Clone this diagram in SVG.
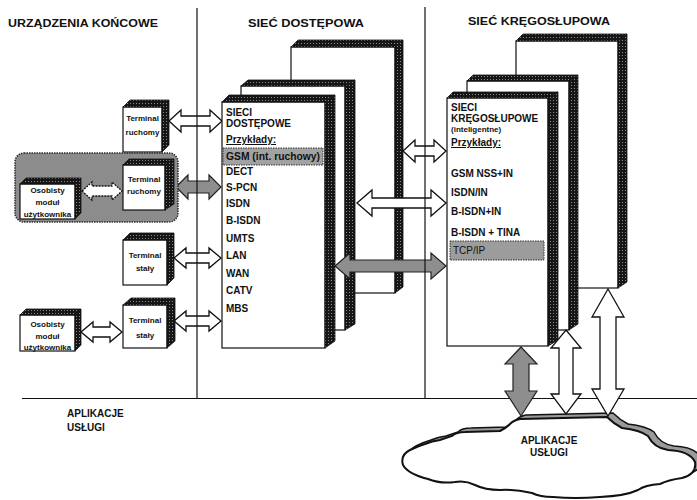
<svg xmlns="http://www.w3.org/2000/svg" width="697" height="500" viewBox="0 0 697 500">
<defs>
<pattern id="stip" width="3" height="3" patternUnits="userSpaceOnUse"><rect width="3" height="3" fill="#161616"/><rect x="1" y="1" width="1" height="1" fill="#8a8a8a"/></pattern>
<path id="cloudshape" d="M520,419 L607,417 Q614,424 622,428 Q640,430 648,436 Q654,448 668,450 Q690,451 695,462 Q697,474 682,478 Q668,480 660,484 Q645,485 638,490 Q625,496 600,497 Q575,499 553,497 Q540,497 532,493 Q515,489 500,490 Q485,490 475,485 Q465,480 455,482 Q440,484 428,479 Q408,474 403,465 Q400,455 410,450 Q418,446 425,444 Q432,441 440,440 L452,436 Q456,432 465,432 L500,431 Q506,428 510,424 Q514,420 520,419 Z"/>
<style>
text{font-family:"Liberation Sans",Arial,sans-serif;font-weight:bold;fill:#111}
.h{font-size:11.6px}
.t{font-size:10px}
.s{font-size:8px}
.c{text-anchor:middle}
.face{fill:#fff;stroke:#111;stroke-width:1.2}
.dark{fill:url(#stip);stroke:#111;stroke-width:0.8}
.wa{fill:#fff;stroke:#111;stroke-width:1.3}
.ga{fill:#8e8e8e;stroke:#222;stroke-width:1.2}
.div{stroke:#111;stroke-width:1.2;fill:none}
</style>
</defs>
<rect width="697" height="500" fill="#fff"/>

<!-- headers -->
<text class="h" x="8" y="27" textLength="150" lengthAdjust="spacingAndGlyphs">URZĄDZENIA KOŃCOWE</text>
<text class="h" x="248" y="27" textLength="116" lengthAdjust="spacingAndGlyphs">SIEĆ DOSTĘPOWA</text>
<text class="h" x="468" y="25" textLength="142" lengthAdjust="spacingAndGlyphs">SIEĆ KRĘGOSŁUPOWA</text>

<!-- access network stack -->
<g id="access-back">
<rect class="face" x="291" y="47" width="104" height="246"/>
<polygon class="dark" points="291,47 298,40 403,40 395,47"/>
<polygon class="dark" points="395,47 403,40 403,287 395,293"/>
</g>
<g id="access-mid">
<rect class="face" x="241" y="86" width="104" height="244"/>
<polygon class="dark" points="241,86 248,80 355,80 345,86"/>
<polygon class="dark" points="345,86 355,80 355,324 345,330"/>
</g>

<!-- backbone stack -->
<g id="backbone-back">
<rect class="face" x="516" y="41" width="102" height="247"/>
<polygon class="dark" points="516,41 523,34 627,34 618,41"/>
<polygon class="dark" points="618,41 627,34 627,282 618,288"/>
</g>
<g id="backbone-mid">
<rect class="face" x="467" y="81" width="102" height="249"/>
<polygon class="dark" points="467,81 473,75 578,75 569,81"/>
<polygon class="dark" points="569,81 578,75 578,324 569,330"/>
</g>

<!-- connectors -->
<g id="connectors">
<path class="wa" d="M403,151 L415,140 L415,146 L434,146 L434,140 L446,151 L434,162 L434,156 L415,156 L415,162 Z"/>
<path class="wa" d="M357,203 L372,190 L372,198 L431,198 L431,190 L446,203 L431,216 L431,208 L372,208 L372,216 Z"/>
<path class="ga" d="M335,266 L350,253 L350,260 L431,260 L431,253 L446,266 L431,279 L431,272 L350,272 L350,279 Z"/>
<path class="wa" d="M169,121 L181,110 L181,116 L210,116 L210,110 L222,121 L210,132 L210,126 L181,126 L181,132 Z"/>
<path class="ga" d="M176,187 L188,175 L188,181 L209,181 L209,175 L221,187 L209,199 L209,193 L188,193 L188,199 Z"/>
<path class="wa" d="M174,258 L186,248 L186,253 L209,253 L209,248 L221,258 L209,268 L209,263 L186,263 L186,268 Z"/>
<path class="wa" d="M81,332 L93,322 L93,327 L110,327 L110,322 L122,332 L110,342 L110,337 L93,337 L93,342 Z"/>
<path class="wa" d="M174,321 L186,311 L186,316 L209,316 L209,311 L221,321 L209,331 L209,326 L186,326 L186,331 Z"/>
</g>

<!-- access front box -->
<g id="access-front">
<rect class="face" x="222" y="102" width="103" height="246"/>
<polygon class="dark" points="222,102 229,95 335,95 325,102"/>
<polygon class="dark" points="325,102 335,95 335,341 325,348"/>
<text class="t" x="226" y="116">SIECI</text>
<text class="t" x="226" y="127">DOSTĘPOWE</text>
<text class="t" x="226" y="143" text-decoration="underline">Przykłady:</text>
<rect x="223" y="148" width="100" height="17" fill="#a2a2a2" stroke="#333" stroke-width="1" stroke-dasharray="1.5 1"/>
<text class="t" x="226" y="160" font-size="9.5" textLength="94" lengthAdjust="spacingAndGlyphs">GSM (int. ruchowy)</text>
<text class="t" x="226" y="175">DECT</text>
<text class="t" x="226" y="191">S-PCN</text>
<text class="t" x="226" y="207">ISDN</text>
<text class="t" x="226" y="224">B-ISDN</text>
<text class="t" x="226" y="242">UMTS</text>
<text class="t" x="226" y="259">LAN</text>
<text class="t" x="226" y="277">WAN</text>
<text class="t" x="226" y="294">CATV</text>
<text class="t" x="226" y="312">MBS</text>
</g>

<!-- backbone front box -->
<g id="backbone-front">
<rect class="face" x="447" y="98" width="101" height="248"/>
<polygon class="dark" points="447,98 453,92 558,92 548,98"/>
<polygon class="dark" points="548,98 558,92 558,340 548,346"/>
<text class="t" x="451" y="111">SIECI</text>
<text class="t" x="451" y="122">KRĘGOSŁUPOWE</text>
<text class="s" x="451" y="132">(inteligentne)</text>
<text class="t" x="451" y="146" text-decoration="underline">Przykłady:</text>
<text class="t" x="451" y="177">GSM NSS+IN</text>
<text class="t" x="451" y="196">ISDN/IN</text>
<text class="t" x="451" y="215">B-ISDN+IN</text>
<text class="t" x="451" y="236">B-ISDN + TINA</text>
<rect x="450" y="241" width="94" height="19" fill="#9c9c9c" stroke="#333" stroke-width="1" stroke-dasharray="1.5 1"/>
<text class="t" x="453" y="254" style="font-weight:normal">TCP/IP</text>
</g>

<!-- terminal devices -->
<g id="terminal-ruchomy-1">
<rect class="face" x="123" y="107" width="39" height="45"/>
<polygon class="dark" points="123,107 130,100 169,100 162,107"/>
<polygon class="dark" points="162,107 169,100 169,145 162,152"/>
<text class="s c" x="142.5" y="121">Terminal</text>
<text class="s c" x="142.5" y="135">ruchomy</text>
</g>

<g id="user-group">
<rect x="15" y="153" width="163" height="69" rx="9" fill="#8c8c8c" stroke="#2a2a2a" stroke-width="1.5" stroke-dasharray="1.5 1"/>
<path class="wa" d="M82,191 L92,182 L92,186 L112,186 L112,182 L122,191 L112,200 L112,196 L92,196 L92,200 Z" stroke-dasharray="2 1"/>
</g>
<g id="osobisty-1">
<rect class="face" x="20" y="184" width="55" height="35"/>
<polygon class="dark" points="20,184 26,178 81,178 75,184"/>
<polygon class="dark" points="75,184 81,178 81,213 75,219"/>
<text class="s c" x="47.5" y="193">Osobisty</text>
<text class="s c" x="47.5" y="205">moduł</text>
<text class="s c" x="47.5" y="217">użytkownika</text>
</g>
<g id="terminal-ruchomy-2">
<rect class="face" x="123" y="165" width="42" height="45"/>
<polygon class="dark" points="123,165 129,159 174,159 165,165"/>
<polygon class="dark" points="165,165 174,159 174,204 165,210"/>
<text class="s c" x="144" y="182">Terminal</text>
<text class="s c" x="144" y="194">ruchomy</text>
</g>
<g id="terminal-staly-1">
<rect class="face" x="123" y="240" width="44" height="45"/>
<polygon class="dark" points="123,240 130,233 174,233 167,240"/>
<polygon class="dark" points="167,240 174,233 174,278 167,285"/>
<text class="s c" x="145" y="258">Terminal</text>
<text class="s c" x="145" y="271">stały</text>
</g>
<g id="osobisty-2">
<rect class="face" x="20" y="315" width="55" height="36"/>
<polygon class="dark" points="20,315 26,309 81,309 75,315"/>
<polygon class="dark" points="75,315 81,309 81,345 75,351"/>
<text class="s c" x="47.5" y="327">Osobisty</text>
<text class="s c" x="47.5" y="339">moduł</text>
<text class="s c" x="47.5" y="350">użytkownika</text>
</g>
<g id="terminal-staly-2">
<rect class="face" x="123" y="305" width="44" height="43"/>
<polygon class="dark" points="123,305 131,298 175,298 167,305"/>
<polygon class="dark" points="167,305 175,298 175,341 167,348"/>
<text class="s c" x="145" y="323">Terminal</text>
<text class="s c" x="145" y="338">stały</text>
</g>

<!-- cloud -->
<g id="cloud">
<use href="#cloudshape" transform="translate(6,-4)" fill="#9a9a9a" stroke="#111" stroke-width="1.5"/>
<use href="#cloudshape" fill="#fff" stroke="#111" stroke-width="2"/>
<text class="t c" x="549" y="444">APLIKACJE</text>
<text class="t c" x="549" y="456">USŁUGI</text>
</g>

<!-- divider lines -->
<g id="dividers">
<line class="div" x1="197" y1="8" x2="197" y2="399"/>
<line class="div" x1="425" y1="7" x2="425" y2="398"/>
<line class="div" x1="22" y1="398.5" x2="697" y2="398.5"/>
</g>

<!-- vertical connectors to cloud -->
<g id="connectors-vertical">
<path class="ga" d="M521,347 L537,364 L529,364 L529,391 L537,391 L521,416 L505,391 L513,391 L513,364 L505,364 Z"/>
<path class="wa" d="M566,330 L581,348 L573,348 L573,394 L581,394 L566,414 L551,394 L559,394 L559,348 L551,348 Z"/>
<path class="wa" d="M608,289 L624,317 L616,317 L616,389 L624,389 L608,416 L592,389 L600,389 L600,317 L592,317 Z"/>
</g>

<text class="t" x="67" y="417">APLIKACJE</text>
<text class="t" x="67" y="431">USŁUGI</text>
</svg>
